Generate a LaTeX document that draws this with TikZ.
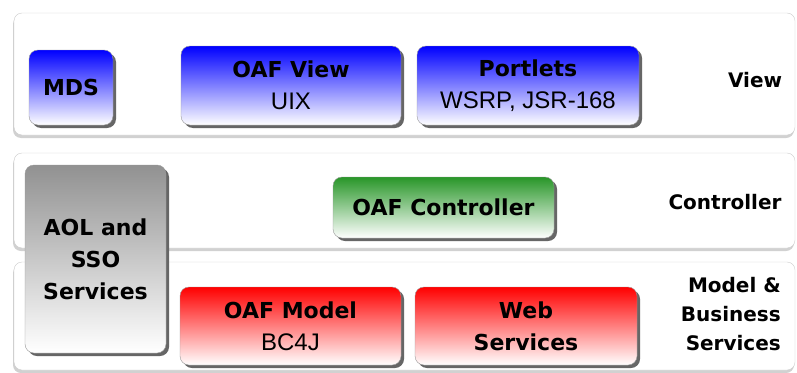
\documentclass[tikz,border=0pt]{standalone}
\usepackage{fontspec}
\setmainfont{DejaVu Sans}
\newfontfamily\arialfont{Liberation Sans}
\usetikzlibrary{shadows}
\newcommand{\subline}[1]{{\arialfont\mdseries\fontsize{24}{32}\selectfont #1}}
\definecolor{ctrlgreen}{RGB}{40,150,40}
\definecolor{aolgray}{RGB}{145,145,145}
\begin{document}
\begin{tikzpicture}[x=1pt, y=-1pt,
  layer/.style={draw=black!20, fill=white, rounded corners=8pt, minimum width=781pt,
    drop shadow={shadow xshift=-1pt, shadow yshift=-3pt, fill=black!30, opacity=.6}},
  comp/.style={draw=black!40, rounded corners=9pt, align=center, inner sep=0pt,
    drop shadow={shadow xshift=3pt, shadow yshift=-3pt, fill=black!60, opacity=1},
    font=\fontsize{22}{32}\selectfont\bfseries},
  fadeto/.style={top color=#1, middle color=#1!40!white, bottom color=white},
  tier/.style={font=\fontsize{20}{29}\selectfont\bfseries, align=right, inner sep=0pt}]
\useasboundingbox (0,0) rectangle (797,372);
% layers
\node[layer, minimum height=122pt] (lview) at (404.5,74){};
\node[layer, minimum height=95pt] (lctrl) at (404.5,200.5){};
\node[layer, minimum height=108pt] (lmodel) at (404.5,316){};
% view tier
\node[comp, fadeto=blue, minimum width=84pt, minimum height=75pt] (mds) at (71,87.5){MDS};
\node[comp, fadeto=blue, minimum width=220pt, minimum height=79pt] (oafview) at (291,85.5){OAF View\\\subline{UIX}};
\node[comp, fadeto=blue, minimum width=222pt, minimum height=79pt] (portlets) at (528,85.5){Portlets\\\subline{WSRP, JSR-168}};
\node[tier] (tview) at (755,80){View};
% controller tier
\node[comp, fadeto=ctrlgreen, minimum width=221pt, minimum height=61pt] (oafctrl) at (443.5,207.5){OAF Controller};
\node[tier] (tctrl) at (725,202){Controller};
% model tier
\node[comp, fadeto=red, minimum width=221pt, minimum height=78pt] (oafmodel) at (290.5,326){OAF Model\\\subline{BC4J}};
\node[comp, fadeto=red, minimum width=222pt, minimum height=78pt] (websvc) at (526,326){Web\\Services};
\node[tier, anchor=east] (tmodel) at (781,314){Model \&\\Business\\Services};
% side services
\node[comp, fadeto=aolgray, minimum width=141pt, minimum height=188pt] (aol) at (95.5,259){AOL and\\SSO\\Services};
\end{tikzpicture}
\end{document}
